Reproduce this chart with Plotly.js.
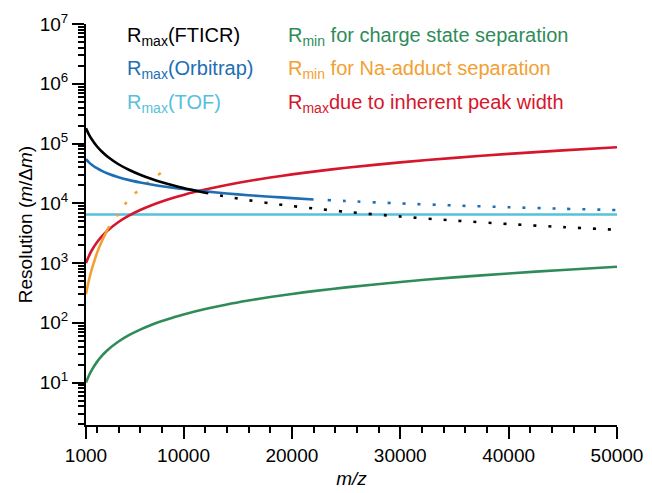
<!DOCTYPE html>
<html>
<head>
<meta charset="utf-8">
<script src="https://cdn.plot.ly/plotly-3.0.1.min.js"></script>
<style>html,body{margin:0;padding:0;background:#fff;}#chart{width:652px;height:493px;}</style>
</head>
<body>
<div id="chart"></div>
<script>
// m/z sample points and resolution values
const mzFTICR = [1000,1250,1500,2000,2500,3000,4000,5000,6000,7000,8000,9000,10000,11000,12000];
const rFTICR  = [180000,144000,120000,90000,72000,60000,45000,36000,30000,25700,22500,20000,18000,16400,15000];
const mzFTICRx = [12000,14000,16000,18000,20000,22000,25000,30000,35000,40000,45000,50000];
const rFTICRx  = [15000,12900,11250,10000,9000,8200,7200,6000,5140,4500,4000,3600];

const mzOrbi = [1000,1250,1500,2000,2500,3000,4000,5000,6000,7000,8000,9000,10000,11000,12000,14000,16000,18000,20000,22000];
const rOrbi  = [54600,48800,44600,38600,34500,31500,27300,24400,22300,20600,19300,18200,17300,16500,15800,14600,13600,12900,12200,11600];
const mzOrbix = [23300,25000,30000,35000,40000,45000,50000];
const rOrbix  = [11300,10900,9950,9200,8600,8100,7700];

const mzTOF = [1000,50000];
const rTOF  = [6500,6500];

const mzPeak = [1000,1250,1500,2000,2500,3000,4000,5000,6000,7000,8000,9000,10000,11000,12000,14000,16000,18000,20000,22000,25000,30000,35000,40000,45000,50000];
const rPeak  = [1000,1290,1590,2200,2840,3500,4860,6260,7710,9190,10700,12240,13800,15390,16990,20260,23590,26980,30420,33910,39240,48300,57570,67050,76690,86470];

const mzCharge = [1000,1250,1500,2000,2500,3000,4000,5000,6000,7000,8000,9000,10000,12000,14000,16000,18000,20000,22000,25000,30000,35000,40000,45000,50000];
const rCharge  = [10,12.9,15.9,22,28.4,35,48.6,62.6,77,92,107,122,138,170,203,236,270,304,339,392,483,576,670,767,865];

const mzNa = [1000,1250,1500,1750,2000,2500,3000];
const rNa  = [300,500,750,1050,1450,2400,3700];
const mzNax = [3000,4000,5000,6300,7500,8600];
const rNax  = [3700,6700,11900,19300,28400,39500];

const xTickVals = [1000,10000,20000,30000,40000,50000];
const xTickText = ['1000','10000','20000','30000','40000','50000'];
const xMinor = [2000,4000,6000,8000,12000,14000,16000,18000,22000,24000,26000,28000,32000,34000,36000,38000,42000,44000,46000,48000];
const yTickVals = [10,100,1000,10000,100000,1000000,10000000];
const yTickText = ['10<sup>1</sup>','10<sup>2</sup>','10<sup>3</sup>','10<sup>4</sup>','10<sup>5</sup>','10<sup>6</sup>','10<sup>7</sup>'];

const legendLabels = [
  'R<sub>max</sub>(FTICR)', 'R<sub>max</sub>(Orbitrap)', 'R<sub>max</sub>(TOF)',
  'R<sub>min</sub> for charge state separation', 'R<sub>min</sub> for Na-adduct separation', 'R<sub>max</sub>due to inherent peak width'
];

const C = {
  black:'#000000', blue:'#1e6eb4', cyan:'#55c1da', green:'#2f8c5a', orange:'#f3a033', red:'#d6162c'
};
const legendColors = [C.black, C.blue, C.cyan, C.green, C.orange, C.red];

const yMinor = [];
for (let k = 0; k <= 6; k++) for (let d = 2; d <= 9; d++) yMinor.push(d * Math.pow(10, k));

const LW = 2.6;
const DOT = '3px,12px';
function tr(x, y, color, dash) {
  return {x: x, y: y, type: 'scatter', mode: 'lines', hoverinfo: 'skip',
    line: {color: color, width: LW, dash: dash || 'solid', shape: 'spline', smoothing: 0.8}};
}

const data = [
  tr(mzCharge, rCharge, C.green),
  tr(mzTOF, rTOF, C.cyan),
  tr(mzPeak, rPeak, C.red),
  tr(mzNa, rNa, C.orange),
  tr(mzNax, rNax, C.orange, DOT),
  tr(mzOrbi, rOrbi, C.blue),
  tr(mzOrbix, rOrbix, C.blue, DOT),
  tr(mzFTICR, rFTICR, C.black),
  tr(mzFTICRx, rFTICRx, C.black, DOT)
];

const FONT = 'Liberation Sans, Arial, sans-serif';
const L = 86, R = 35, T = 24, B = 68;
const W = 652, H = 493;
const pw = W - L - R, ph = H - T - B;
function px2paperX(px) { return (px - L) / pw; }
function px2paperY(py) { return (H - B - py) / ph; }

const colX = [125, 286];
const rowY = [37, 70, 103];
const annotations = legendLabels.map((t, i) => ({
  text: t, xref: 'paper', yref: 'paper',
  x: px2paperX(colX[Math.floor(i / 3)]), y: px2paperY(rowY[i % 3]),
  xanchor: 'left', yanchor: 'middle', showarrow: false,
  font: {family: FONT, size: 20, color: legendColors[i]}
}));

const layout = {
  width: W, height: H,
  margin: {l: L, r: R, t: T, b: B},
  paper_bgcolor: '#ffffff', plot_bgcolor: '#ffffff',
  showlegend: false,
  font: {family: FONT, size: 19, color: '#000'},
  xaxis: {
    range: [1000, 50000], tickmode: 'array', tickvals: xTickVals, ticktext: xTickText,
    ticks: 'outside', ticklen: 12, tickwidth: 2, tickcolor: '#000',
    showline: true, linewidth: 2, linecolor: '#000', showgrid: false, zeroline: false,
    minor: {tickmode: 'array', tickvals: xMinor, ticks: 'outside', ticklen: 6, tickwidth: 2, tickcolor: '#000', showgrid: false},
    tickfont: {family: FONT, size: 19, color: '#000'},
    title: {text: '<i>m/z</i>', font: {family: FONT, size: 19, color: '#000'}, standoff: 7}
  },
  yaxis: {
    type: 'log', range: [0.29, 7], tickmode: 'array', tickvals: yTickVals, ticktext: yTickText,
    ticks: 'outside', ticklen: 12, tickwidth: 2, tickcolor: '#000',
    showline: true, linewidth: 2, linecolor: '#000', showgrid: false, zeroline: false,
    minor: {tickmode: 'array', tickvals: yMinor, ticks: 'outside', ticklen: 6, tickwidth: 2, tickcolor: '#000', showgrid: false},
    tickfont: {family: FONT, size: 19, color: '#000'},
    title: {text: 'Resolution (<i>m</i>/Δ<i>m</i>)', font: {family: FONT, size: 19, color: '#000'}, standoff: 2}
  },
  annotations: annotations
};

Plotly.newPlot('chart', data, layout, {displayModeBar: false, staticPlot: true});
</script>
</body>
</html>
